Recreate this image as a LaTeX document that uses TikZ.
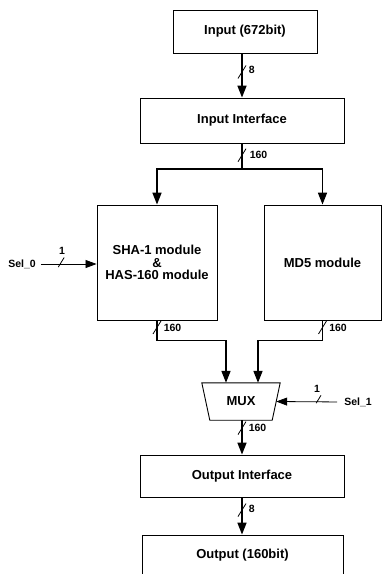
\documentclass[tikz,border=0pt]{standalone}
\usepackage{fontspec}
\setmainfont{Liberation Sans}
\usetikzlibrary{arrows.meta,calc}
\begin{document}
\begin{tikzpicture}[x=1pt,y=-1pt,
  box/.style={draw, line width=0.9pt, inner sep=0pt, align=center,
    font=\fontsize{13}{12.5}\selectfont\bfseries},
  mainfont/.style={font=\fontsize{13}{12.5}\selectfont\bfseries},
  bus/.style={line width=1.6pt, -{Triangle[length=12pt,width=9pt]}},
  sel/.style={line width=0.8pt, -{Triangle[length=11pt,width=8pt]}},
  lbl/.style={font=\fontsize{10.5}{10.5}\selectfont\bfseries, inner sep=1pt},
  wslash/.pic={\draw[line width=0.8pt, -] (-4,6.5) -- (4,-6.5);}
]
\useasboundingbox (0,0) rectangle (383,574);
\clip (0,0) rectangle (383,574);
\coordinate (ax) at (242,0);

% blocks
\node[box, minimum width=144, minimum height=43] (in) at (245,31.5) {Input (672bit)};
\node[box, minimum width=204, minimum height=45] (ii) at (242,120.5) {Input Interface};
\node[box, minimum width=120, minimum height=115] (sha) at (157,262.5) {SHA-1 module\\\&\\HAS-160 module};
\node[box, minimum width=117, minimum height=115] (md5) at (322.5,262.5) {MD5 module};
\node[mainfont, inner sep=0pt, minimum width=78, minimum height=37] (mux) at (241,401.5) {MUX};
\draw[line width=0.9pt] (mux.north west) -- (mux.north east) -- ($(mux.south east)+(-8,0)$)
  -- ($(mux.south west)+(8,0)$) -- cycle;
\node[box, minimum width=204, minimum height=42] (oi) at (242,476) {Output Interface};
\node[box, minimum width=201, minimum height=41] (out) at (242.5,555.5) {Output (160bit)};

% select inputs
\node[lbl] (s0) at (22,264) {Sel\_0};
\node[lbl] (s1) at (358,402) {Sel\_1};

% connectors
\draw[bus] (ax |- in.south) -- pic[pos=0.42]{wslash} node[pos=0.38, right=5pt, lbl]{8} (ax |- ii.north);
\coordinate (split) at (242,169);
\draw[line width=1.6pt] (ax |- ii.south) -- pic[pos=0.46]{wslash} node[pos=0.45, right=6pt, lbl]{160} (split);
\draw[bus] (split) -| (sha.north);
\draw[bus] (split) -| (md5.north);

\draw[sel, shorten <=4pt] (s0.east) -- pic[pos=0.39]{wslash} node[pos=0.42, above=8pt, lbl]{1} (s0.east -| sha.west);

\draw[bus] (sha.south) -- pic[pos=0.35]{wslash} node[pos=0.35, right=5pt, lbl]{160} ($(sha.south)+(0,20)$) -| ($(mux.north)+(-15,0)$);
\draw[bus] (md5.south) -- pic[pos=0.35]{wslash} node[pos=0.35, right=5pt, lbl]{160} ($(md5.south)+(0,20)$) -| ($(mux.north)+(17,0)$);

\draw[sel, shorten <=6pt] (s1.west) -- pic[pos=0.39]{wslash} node[pos=0.39, above=8pt, lbl]{1} ($(mux.east)+(-4,0)$);

\draw[bus] (mux.south -| ax) -- pic[pos=0.23]{wslash} node[pos=0.23, right=5pt, lbl]{160} (ax |- oi.north);
\draw[bus] (ax |- oi.south) -- pic[pos=0.34]{wslash} node[pos=0.32, right=5pt, lbl]{8} (ax |- out.north);
\end{tikzpicture}
\end{document}
